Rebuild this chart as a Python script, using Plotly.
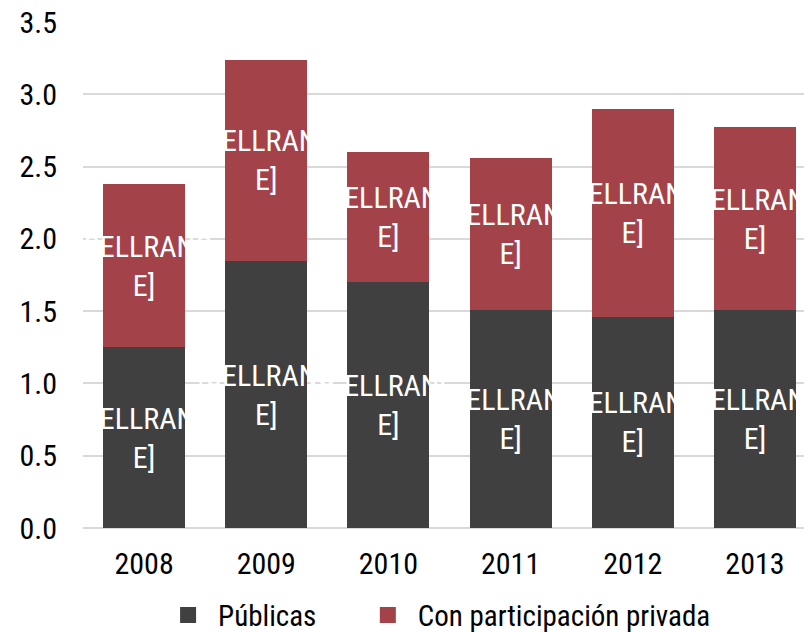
import plotly.graph_objects as go

years = ["2008", "2009", "2010", "2011", "2012", "2013"]
publicas = [1.25, 1.845, 1.70, 1.51, 1.46, 1.505]
privada = [1.13, 1.395, 0.90, 1.05, 1.44, 1.27]
bar_labels = ["[CELLRANG<br>E]"] * 6
series_names = ["Públicas", "Con participación privada"]
y_ticks = [0, 0.5, 1.0, 1.5, 2.0, 2.5, 3.0, 3.5]
y_ticktext = ["0.0", "0.5", "1.0", "1.5", "2.0", "2.5", "3.0", "3.5"]

DARK = "#404040"
RED = "#A4424A"
FONT = "Liberation Sans Narrow, Roboto Condensed, DejaVu Sans Condensed, Arial Narrow, sans-serif"

fig = go.Figure()
for vals, color, name, lg in [(publicas, DARK, series_names[0], "legend"),
                              (privada, RED, series_names[1], "legend2")]:
    fig.add_trace(go.Bar(
        x=years, y=vals, name=name, marker=dict(color=color, line=dict(width=0)),
        text=bar_labels, textposition="inside", insidetextanchor="middle",
        constraintext="none", textangle=0,
        textfont=dict(color="white", size=30, family=FONT),
        showlegend=False, hoverinfo="skip",
    ))
    fig.add_trace(go.Scatter(
        x=[None], y=[None], mode="markers", name=name, legend=lg,
        marker=dict(symbol="square", size=16, color=color),
        showlegend=True, hoverinfo="skip",
    ))

legend_common = dict(
    orientation="h", xref="paper", xanchor="left",
    yref="container", y=0.027, yanchor="middle",
    font=dict(size=29, family=FONT), itemwidth=50,
    itemsizing="trace", bgcolor="rgba(0,0,0,0)",
)

fig.update_layout(
    width=804, height=624,
    barmode="stack", bargap=0.328,
    plot_bgcolor="white", paper_bgcolor="white",
    margin=dict(l=75, r=0, t=14, b=104, autoexpand=False),
    font=dict(family=FONT, color="#000000", size=29),
    showlegend=True,
    legend=dict(x=0.103, **legend_common),
    legend2=dict(x=0.377, **legend_common),
    xaxis=dict(
        type="category", range=[-0.5, 5.467], showgrid=False, showline=False,
        ticks="", tickfont=dict(size=30, family=FONT), ticklabelstandoff=15,
        automargin=False, ticklabeloverflow="allow",
    ),
    yaxis=dict(
        range=[0, 3.5], tickvals=y_ticks, ticktext=y_ticktext,
        showgrid=True, gridcolor="#D9D9D9", gridwidth=1.5,
        zeroline=True, zerolinecolor="#D9D9D9", zerolinewidth=1.5,
        showline=False, ticks="", tickfont=dict(size=30, family=FONT),
        ticklabelstandoff=25, automargin=False, ticklabeloverflow="allow",
    ),
)

fig.write_html("out.html")
